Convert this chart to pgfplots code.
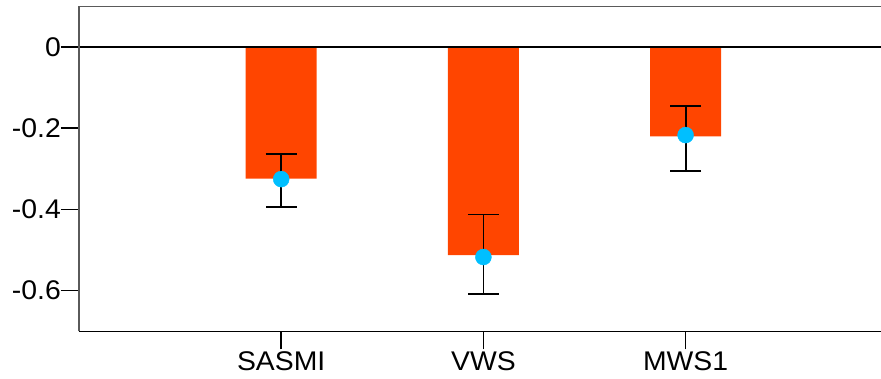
\documentclass[border=0pt]{standalone}
\usepackage{fontspec}
\setmainfont[FakeStretch=1.05]{Liberation Sans}
\usepackage{pgfplots}
\pgfplotsset{compat=1.18}
\usetikzlibrary{calc}
\definecolor{barorange}{RGB}{255,69,0}
\definecolor{ptblue}{RGB}{0,191,255}
\definecolor{axgray}{RGB}{90,90,90}
\begin{document}
\begin{tikzpicture}
\begin{axis}[
  scale only axis,
  width=808.8bp, height=325bp,
  xmin=0, xmax=4, ymin=-0.7, ymax=0.1,
  axis line style={draw=none},
  xtick={1,2,3}, xticklabels={SASMI,VWS,MWS1},
  ytick={-0.6,-0.4,-0.2,0}, yticklabels={-0.6,-0.4,-0.2,0},
  tick pos=left, tick align=outside,
  major tick length=18bp,
  tick style={black, line width=1.6bp},
  ticklabel style={font=\fontsize{27bp}{31bp}\selectfont},
  yticklabel style={inner xsep=0bp},
  xticklabel style={inner ysep=2bp},
  clip=false,
]
\addplot[ybar, bar width=71bp, fill=barorange, draw=none, bar shift=0pt]
  coordinates {(1,-0.3239) (2,-0.5123) (3,-0.2204)};
\addplot[black, line width=1.2bp] coordinates {(0,0) (4,0)};
\addplot[draw=none, mark=none,
  error bars/.cd, y dir=both, y explicit,
  error bar style={black, line width=1.8bp},
  error mark=-,
  error mark options={rotate=90, black, line width=1.8bp, mark size=15.5bp}]
  coordinates {
    (1,-0.3254) += (0,0.0624) -= (0,0.0682)
    (2,-0.5172) += (0,0.1046) -= (0,0.0904)
    (3,-0.2170) += (0,0.0723) -= (0,0.0887)
  };
\addplot[only marks, mark=*, mark size=8bp, ptblue, mark options={draw=none, fill=ptblue}]
  coordinates {(1,-0.3254) (2,-0.5172) (3,-0.2170)};
\draw[axgray, line width=1.5bp] (rel axis cs:0,0) -- (rel axis cs:0,1) -- (rel axis cs:1,1);
\draw[black, line width=1.3bp] (rel axis cs:0,0) -- (rel axis cs:1,0);
\end{axis}
\pgfresetboundingbox
\path ($(current axis.south west)+(-79bp,-47.7bp)$) rectangle ($(current axis.north west)+(802bp,6.3bp)$);
\end{tikzpicture}
\end{document}
